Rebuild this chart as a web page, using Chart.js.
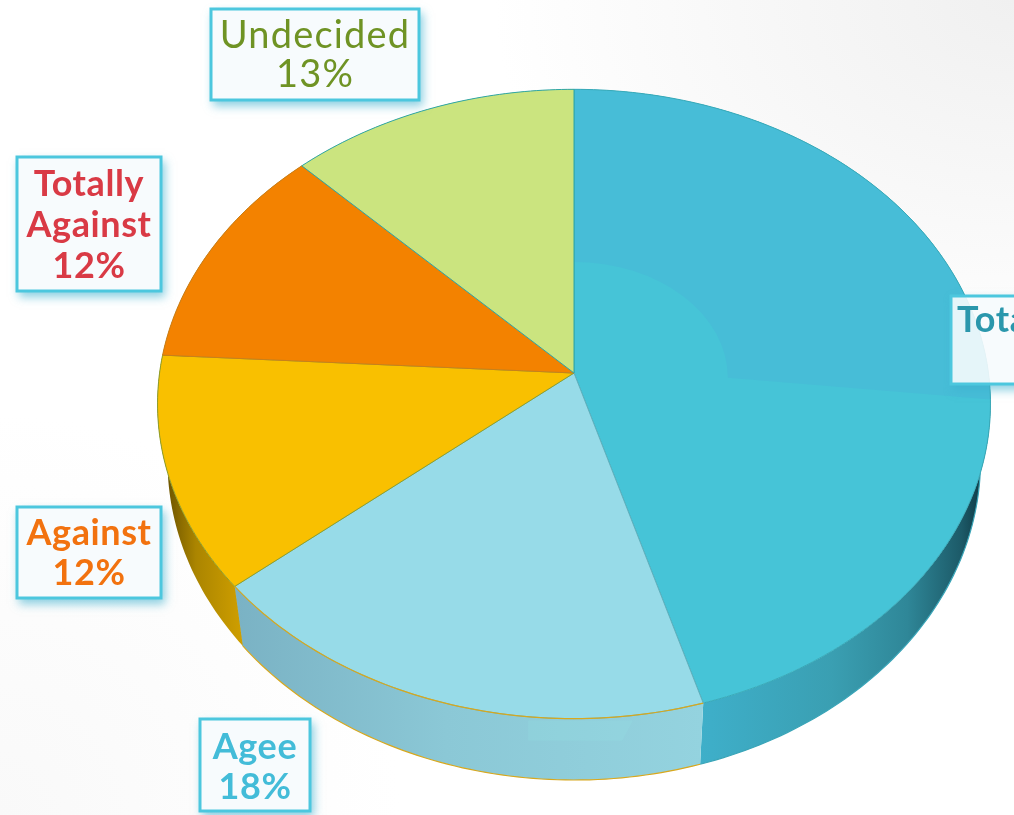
<!DOCTYPE html>
<html>
<head>
<meta charset="utf-8">
<script src="https://cdn.jsdelivr.net/npm/chart.js@4/dist/chart.umd.js"></script>
<style>
html,body{margin:0;padding:0;width:1014px;height:815px;overflow:hidden;
background:
 radial-gradient(ellipse 520px 380px at 100% 0%, #f0f0f0 0%, rgba(240,240,240,0) 100%),
 radial-gradient(ellipse 400px 400px at 0% 100%, #f9f9f9 0%, rgba(249,249,249,0) 100%),
 #ffffff;}
canvas{display:block}
</style>
</head>
<body>
<canvas id="c" width="1014" height="815"></canvas>
<script>
// Data (clockwise from 12 o'clock)
const categories = ["Totally Agree", "Agee", "Against", "Totally Against", "Undecided"];
const values = [45, 18, 12, 12, 13];
const labelLines = [["Totally Agree"], ["Agee"], ["Against"], ["Totally", "Against"], ["Undecided"]];

// Styles
const faceColors = ["#46c4d7", "#97dbe8", "#f9c000", "#f38200", "#cbe47f"];
const edgeColors = ["#38a9b8", "#5fb0bd", "#8f9f2a", "#c8801a", "#2fa6a6"];
const wallStops = [
  [[0.0,"#46b8d0"],[0.33,"#3eaec8"],[0.62,"#3a9fb2"],[0.8,"#2f8798"],[0.93,"#1c5a68"],[1,"#0b2c36"]],
  [[0.0,"#7ab2c4"],[0.45,"#8bc8d6"],[1,"#94d3df"]],
  [[0.0,"#2e2200"],[0.12,"#6f5600"],[0.45,"#ab8500"],[1,"#cf9f00"]],
  [[0,"#a85a00"],[1,"#a85a00"]],
  [[0,"#8ea055"],[1,"#8ea055"]]
];
const wallRim = ["#3aa5b8", "#d8a81e", "#b0a020", "#a85a00", "#8ea055"];
const textColors = ["#2a97ac", "#43bcd8", "#f2720f", "#d93a45", "#6f9324"];
const textFonts = ["700 36px Lato", "700 36px Lato", "700 36px Lato", "700 36px Lato", "400 38px Lato"];
const textSpacing = ["0.6px", "0.6px", "0.6px", "0.6px", "1.2px"];
const boxes = [
  {x:950, y:295, w:null, lines:[320,360], textLeft:957},
  {x:199, y:718, w:112, h:94, lines:[747,787]},
  {x:16, y:506, w:146, h:93, lines:[533,573]},
  {x:16, y:156, w:146, h:136, lines:[184,225,266]},
  {x:210, y:8, w:210, h:93, lines:[36,75]}
];

// Tilt geometry (relative to pie centre and radius)
const G = {sx:1.1126, sy:0.8365, k:-0.0984, warpA:2.17, warpB:-1.77,
           ecy:31/373, erx:417/373, ery:315/373,
           bcy:88/373, brx:407/373, bry:319.5/373};

function project(el, ang){
  const c = ang + Math.PI/2;
  const w = c + (G.warpA*Math.sin(c/2) + G.warpB*Math.sin(c))*Math.PI/180;
  const u = Math.sin(w), v = -Math.cos(w), d = 1 + G.k*v, R = el.outerRadius;
  return {x: el.x + R*G.sx*u/d, y: el.y + R*G.sy*v/d};
}
function projectBase(el, p){
  const R = el.outerRadius;
  return {x: el.x + (p.x-el.x)*G.brx/G.erx,
          y: el.y + R*G.bcy + (p.y-(el.y+R*G.ecy))*G.bry/G.ery};
}
function rimPoints(el){
  const n = Math.max(2, Math.ceil((el.endAngle-el.startAngle)/(Math.PI/180)));
  const pts = [];
  for(let i=0;i<=n;i++) pts.push(project(el, el.startAngle+(el.endAngle-el.startAngle)*i/n));
  return pts;
}
function facePath(ctx, el){
  ctx.beginPath();
  ctx.moveTo(el.x, el.y);
  rimPoints(el).forEach(p=>ctx.lineTo(p.x,p.y));
  ctx.closePath();
}

// Arcs are the library's own elements, drawn through the tilt projection
Chart.ArcElement.prototype.draw = function(ctx){
  const i = this.$context ? this.$context.dataIndex : 0;
  ctx.save();
  facePath(ctx, this);
  ctx.fillStyle = this.options.backgroundColor;
  ctx.fill();
  if(i===0){
    // soft sheen on the large slice
    const R = this.outerRadius;
    ctx.save();
    facePath(ctx, this); ctx.clip();
    ctx.beginPath();
    ctx.moveTo(this.x, this.y-R*0.298);
    ctx.ellipse(this.x, this.y+R*0.013, R*0.413, R*0.311, 0, -Math.PI/2, 0);
    ctx.lineTo(this.x+R*1.2, this.y+R*0.078);
    ctx.lineTo(this.x+R*1.2, this.y-R);
    ctx.lineTo(this.x, this.y-R);
    ctx.closePath();
    ctx.fillStyle = "#47bdd7";
    ctx.fill();
    ctx.restore();
  }
  facePath(ctx, this);
  ctx.strokeStyle = this.options.borderColor;
  ctx.lineWidth = 1;
  ctx.lineJoin = "round";
  ctx.stroke();
  if(i===1){
    // golden rim along the front edge of this slice
    ctx.beginPath();
    rimPoints(this).forEach((p,j)=> j?ctx.lineTo(p.x,p.y):ctx.moveTo(p.x,p.y));
    ctx.strokeStyle = wallRim[1];
    ctx.lineWidth = 1.2;
    ctx.stroke();
  }
  ctx.restore();
};

const wallPlugin = {
  id:"wall",
  beforeDatasetsDraw(chart){
    const ctx = chart.ctx, arcs = chart.getDatasetMeta(0).data;
    arcs.forEach((el,i)=>{
      const top = rimPoints(el), base = top.map(p=>projectBase(el,p));
      const xs = top.concat(base).map(p=>p.x);
      const x0 = Math.min(...xs), x1 = Math.max(...xs);
      const g = ctx.createLinearGradient(x0,0,x1,0);
      wallStops[i].forEach(s=>g.addColorStop(s[0],s[1]));
      ctx.save();
      ctx.beginPath();
      top.forEach((p,j)=> j?ctx.lineTo(p.x,p.y):ctx.moveTo(p.x,p.y));
      base.slice().reverse().forEach(p=>ctx.lineTo(p.x,p.y));
      ctx.closePath();
      ctx.fillStyle = g; ctx.fill();
      ctx.restore();
      ctx.save();
      ctx.strokeStyle = wallRim[i]; ctx.lineWidth = 1.2;
      if(i===1 || i===0){
        ctx.beginPath();
        base.forEach((p,j)=> j?ctx.lineTo(p.x,p.y):ctx.moveTo(p.x,p.y));
        ctx.stroke();
      }
      if(i===1){
        // faint reflection on the front of the wall
        const R = el.outerRadius;
        ctx.beginPath();
        ctx.moveTo(el.x-R*0.123, el.y+R*0.933);
        ctx.lineTo(el.x+R*0.158, el.y+R*0.933);
        ctx.lineTo(el.x+R*0.129, el.y+R*0.987);
        ctx.lineTo(el.x-R*0.123, el.y+R*0.987);
        ctx.closePath();
        ctx.fillStyle = "rgba(150,228,228,0.2)";
        ctx.fill();
      }
      // vertical seam at the end of the slice
      ctx.strokeStyle = i===0 ? "#3a9fb2" : "#7ab2c4";
      ctx.lineWidth = 1;
      if(i===0){
        ctx.beginPath(); ctx.moveTo(top[0].x,top[0].y); ctx.lineTo(base[0].x,base[0].y); ctx.stroke();
      }
      if(i===1){
        const a=top[top.length-1], b=base[base.length-1];
        ctx.beginPath(); ctx.moveTo(a.x,a.y); ctx.lineTo(b.x,b.y); ctx.stroke();
      }
      ctx.restore();
    });
  }
};

const labelPlugin = {
  id:"boxes",
  afterDraw(chart){
    const ctx = chart.ctx;
    categories.forEach((cat,i)=>{
      const b = boxes[i];
      const lines = labelLines[i].concat([values[i]+"%"]);
      ctx.save();
      ctx.font = textFonts[i];
      ctx.letterSpacing = textSpacing[i];
      ctx.textAlign = "center";
      ctx.textBaseline = "middle";
      let w = b.w, h = b.h, cx;
      if(w===null){
        const tw = ctx.measureText(lines[0]).width;
        cx = b.textLeft + tw/2;
        w = (cx-b.x)*2; h = 90;
      } else {
        cx = b.x + w/2;
      }
      // shadow outside the box only
      ctx.save();
      ctx.beginPath();
      ctx.rect(0,0,chart.width,chart.height);
      ctx.rect(b.x,b.y,w,h);
      ctx.clip("evenodd");
      ctx.shadowColor = "rgba(60,175,205,0.6)";
      ctx.shadowBlur = 9;
      ctx.shadowOffsetX = 3;
      ctx.shadowOffsetY = 5;
      ctx.fillStyle = "#ffffff";
      ctx.fillRect(b.x,b.y,w,h);
      ctx.restore();
      ctx.fillStyle = "rgba(246,251,253,0.9)";
      ctx.fillRect(b.x,b.y,w,h);
      ctx.strokeStyle = "#4cc7de";
      ctx.lineWidth = 3;
      ctx.strokeRect(b.x+1,b.y+1,w-2,h-2);
      ctx.fillStyle = textColors[i];
      lines.forEach((t,j)=>ctx.fillText(t,cx,b.lines[j]));
      ctx.restore();
    });
  }
};

new Chart(document.getElementById("c"),{
  type:"pie",
  data:{labels:categories,datasets:[{
    data:values,
    backgroundColor:faceColors,
    borderColor:edgeColors,
    borderWidth:1,
    clip:false
  }]},
  options:{
    responsive:false,
    animation:false,
    layout:{padding:{left:157,right:23,top:0,bottom:69}},
    plugins:{legend:{display:false},tooltip:{enabled:false}}
  },
  plugins:[wallPlugin,labelPlugin]
});
</script>
</body>
</html>
